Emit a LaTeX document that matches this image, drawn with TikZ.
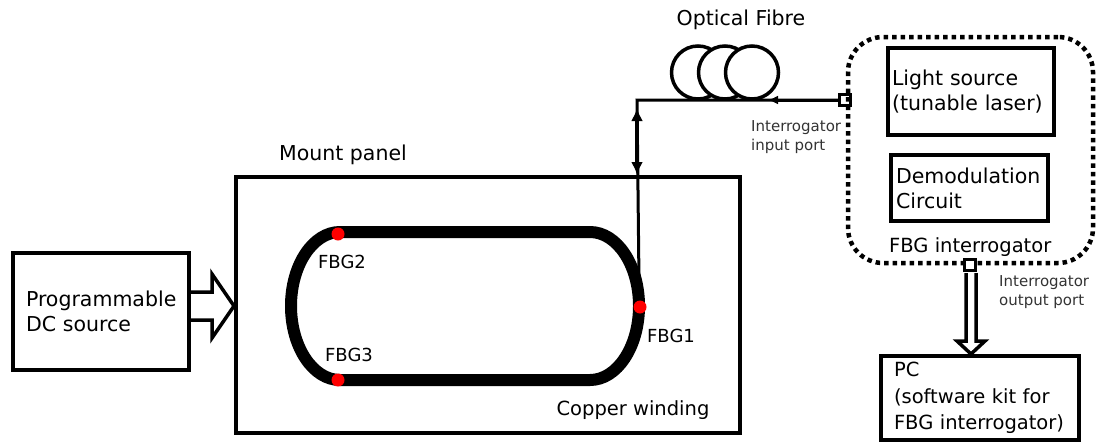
\documentclass[tikz,border=0pt]{standalone}
\usepackage{fontspec}
\setmainfont{DejaVu Sans}
\usepackage{xcolor}
\usepackage{tikz}
\usetikzlibrary{arrows.meta,positioning,calc}
\definecolor{FbgRed}{HTML}{FF0000}
\definecolor{NoteGray}{HTML}{333333}

\begin{document}
\begin{tikzpicture}[x=1pt,y=-1pt,>=Latex,
  box/.style={draw,line width=4pt,inner sep=0pt,align=left},
  txt/.style={font=\fontsize{20.5}{25}\selectfont},
  txtsm/.style={font=\fontsize{19.5}{26.5}\selectfont},
  note/.style={font=\fontsize{15}{19}\selectfont,text=NoteGray,align=left,inner sep=0pt},
  port/.style={draw,line width=3.5pt,fill=white,minimum size=11pt,inner sep=0pt},
  hollow/.style={draw,line width=3.5pt,fill=white,line join=miter},
  fbg/.style={circle,fill=FbgRed,minimum size=13pt,inner sep=0pt},
  coil/.style={circle,draw,line width=3.5pt,fill=white,minimum size=53pt,inner sep=0pt},
  fibre/.style={line width=3pt}]
  \useasboundingbox (0,0) rectangle (1102,442);
  % source and mount panel
  \node[box,txt,minimum width=176pt,minimum height=117pt,text width=150pt] (dc) at (101,311.5)
    {Programmable\\DC source};
  \node[box,minimum width=504pt,minimum height=256pt] (panel) at (488,305) {};
  \node[txt] (paneltxt) at (343,155) {Mount panel};
  \node[txtsm] (winding) at (633,410) {Copper winding};
  \draw[hollow] (dc.east |- 0,292) -- (212,292) -- (212,274) -- (panel.west |- 0,306)
    -- (212,338) -- (212,320) -- (dc.east |- 0,320);
  % copper winding with the gratings
  \draw[line width=12pt] (340,232) -- (590,232) arc[start angle=-90,end angle=90,x radius=49,y radius=74]
    -- (340,380) arc[start angle=90,end angle=270,x radius=49,y radius=74] -- cycle;
  \node[fbg] (fbg1) at (640,307) {};
  \node[fbg] (fbg2) at (338,234) {};
  \node[fbg] (fbg3) at (338,380) {};
  \node[font=\fontsize{18}{20}\selectfont] at (671,336) {FBG1};
  \node[font=\fontsize{18}{20}\selectfont] at (342,262) {FBG2};
  \node[font=\fontsize{18}{20}\selectfont] at (349,355) {FBG3};
  % optical fibre
  \foreach \cx [count=\i] in {698,725,752}
    \node[coil] (coil\i) at (\cx,72.5) {};
  \node[txt] (fibretxt) at (741,20) {Optical Fibre};
  \node[port] (inport) at (845,100) {};
  \coordinate (bend) at (637,100);
  \coordinate (joint) at (639,282);
  \draw[fibre] (inport.west) -- (bend) -- (joint);
  \draw[fibre,-{Latex[length=10pt,width=9pt]}] (inport.west) -- (768,100);
  \draw[line width=3.5pt,{Latex[length=13pt,width=12pt]}-{Latex[length=13pt,width=12pt]}] (637,108) -- (637,175);
  \node[note,anchor=west] (intxt) at (751,137.5) {Interrogator\\input port};
  % interrogator
  \node[draw,line width=4.5pt,dash pattern=on 4.5pt off 4pt,rounded corners=35pt,
    minimum width=245pt,minimum height=226pt] (intg) at (970.5,150) {};
  \node[box,txt,minimum width=166pt,minimum height=87pt,text width=158pt] (light) at (971,91.5)
    {Light source\\(tunable laser)};
  \node[box,txt,minimum width=157pt,minimum height=66pt,text width=147pt] (demod) at (969.5,188)
    {Demodulation\\Circuit};
  \node[txtsm,anchor=west,inner sep=0pt] (intgtxt) at (889,247) {FBG interrogator};
  % PC
  \node[box,txtsm,minimum width=198pt,minimum height=84pt,text width=172pt] (pc) at (980,398)
    {PC\\(software kit for\\FBG interrogator)};
  \draw[hollow] (966,273) -- (966,341) -- (957,341) -- (971,0 |- pc.north) -- (985,341)
    -- (976,341) -- (976,273);
  \node[port] (outport) at (970,265) {};
  \node[note,anchor=west] (outtxt) at (999,292.5) {Interrogator\\output port};
\end{tikzpicture}
\end{document}
